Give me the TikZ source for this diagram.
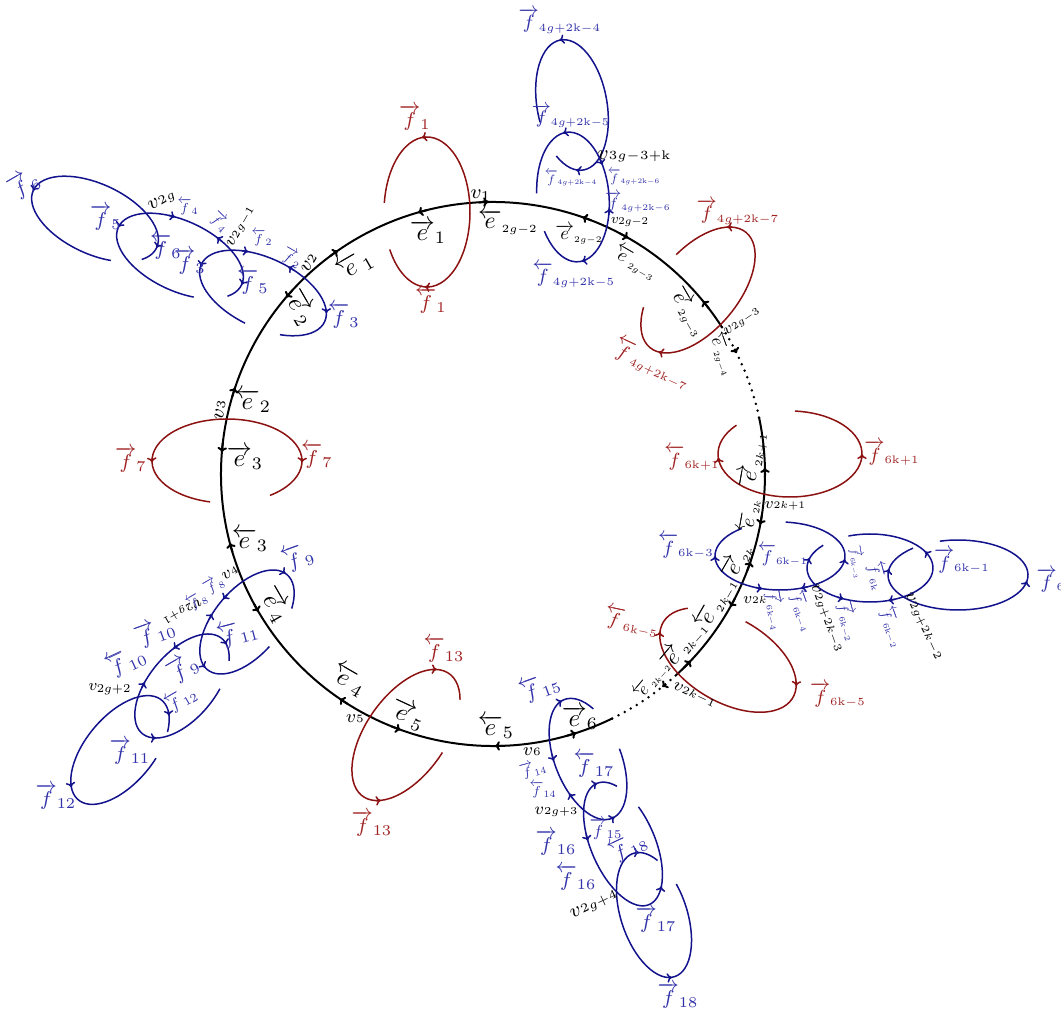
\documentclass[tikz,border=0pt]{standalone}
\usepackage{amsmath}
\usepackage{graphicx}
\usetikzlibrary{arrows.meta}
\definecolor{cred}{RGB}{140,18,18}
\definecolor{cblue}{RGB}{18,18,140}
\definecolor{lred}{RGB}{160,35,35}
\definecolor{lblue}{RGB}{50,50,170}
\newcommand{\eloop}[9]{%
 \begin{scope}[shift={(#2,-#3)},rotate=#6]
 \draw[#1] (#7:#4 and #5) arc[start angle=#7,end angle=#8,x radius=#4,y radius=#5];
 \foreach \tang/\tdir in {#9}{\draw[#1,tipe] ({\tang-(\tdir)*6}:#4 and #5) arc[start angle={\tang-(\tdir)*6},end angle=\tang,x radius=#4,y radius=#5];}
 \end{scope}}
\newcommand{\lab}[6][]{\node[#1] (#2) at (#3,-#4) {\scalebox{#5}{#6}};}
\newcommand{\sml}[1]{\scalebox{0.92}{$\scriptscriptstyle #1$}}
\newcommand{\fR}[1]{$\overrightarrow{f}_{#1}$}
\newcommand{\fL}[1]{$\overleftarrow{f}_{#1}$}
\newcommand{\fRl}[1]{$\overrightarrow{f}_{\sml{#1}}$}
\newcommand{\fLl}[1]{$\overleftarrow{f}_{\sml{#1}}$}
\newcommand{\eR}[1]{$\overrightarrow{e}_{#1}$}
\newcommand{\eL}[1]{$\overleftarrow{e}_{#1}$}
\newcommand{\eRs}[1]{$\overrightarrow{e}_{\sml{#1}}$}
\newcommand{\eLs}[1]{$\overleftarrow{e}_{\sml{#1}}$}
\newcommand{\vb}[1]{$v{\scriptscriptstyle #1}$}
\newcommand{\vs}[1]{$v_{#1}$}
\newcommand{\kk}{\mathrm{k}}
\begin{document}
\begin{tikzpicture}[x=0.4pt,y=0.4pt,
  circ/.style={line width=0.8pt,black},
  dotc/.style={line width=1.1pt,black,dash pattern=on 0pt off 2.8pt,line cap=round},
  rl/.style={line width=0.6pt,cred},
  bl/.style={line width=0.6pt,cblue},
  tipe/.style={-{To[length=2pt,width=3.8pt]}},
  lr/.style={text=lred,inner sep=0pt,font=\footnotesize},
  lb/.style={text=lblue,inner sep=0pt,font=\footnotesize},
  lk/.style={text=black,inner sep=0pt},
  vf/.style={text=black,inner sep=0pt,font=\footnotesize}]
\useasboundingbox (0,0) rectangle (1061,-1011);
% main circle
\begin{scope}[shift={(493,-474)}]
\draw[circ] (32.7:272) arc[start angle=32.7,end angle=296,radius=272];
\draw[circ] (-48:272) arc[start angle=-48,end angle=12,radius=272];
\draw[dotc] (12:272) arc[start angle=12,end angle=32.7,radius=272];
\draw[dotc] (296:272) arc[start angle=296,end angle=312,radius=272];
\foreach \ang/\dir in {91/-1,106/1,70.8/1,60.2/-1,39.5/1,1.3/1,-10.7/-1,-18.8/1,-29.2/-1,-43.4/1,-72.2/1,-89.6/-1,-109.9/1,-124.3/-1,-149.6/1,-165.3/-1,175.4/1,161.5/-1,139.5/1,124.8/-1}
  \draw[circ,tipe] ({\ang-(\dir)*2}:272) arc[start angle={\ang-(\dir)*2},end angle=\ang,radius=272];
\foreach \ang/\dir in {26.4/-1,-51.5/-1}
  \draw[circ,tipe] ({\ang-(\dir)*1}:272) arc[start angle={\ang-(\dir)*1},end angle=\ang,radius=272];
\end{scope}
% red loops
\eloop{rl}{427}{212}{43}{75}{0}{210}{533}{97/1,267/-1}
\eloop{rl}{698}{290}{75}{40}{50}{130}{440}{27/1,194/-1}
\eloop{rl}{227}{461}{75}{42}{0}{305}{617}{182/1,358/-1}
\eloop{rl}{406}{735}{75}{40}{55}{-37}{275}{18/-1,205/1}
\eloop{rl}{790}{454}{72}{43}{0}{138}{446}{185/-1,0/1}
\eloop{rl}{728}{660}{75}{42}{-30}{144}{453}{193/-1,16/-1}
% blue loops, top
\eloop{bl}{572}{105}{35}{66}{10}{226}{550}{92/1,258/-1}
\eloop{bl}{573}{197}{36}{65}{5}{209}{534}{97/1,275/-1,27/-1,347/1}
% upper left chain
\eloop{bl}{95}{219}{68}{35}{-25}{331}{658}{181/1,0/-1}
\eloop{bl}{180}{256}{68}{35}{-25}{332}{656}{180/1,108/-1,68/1,0/-1}
\eloop{bl}{263}{293}{68}{35}{-25}{299}{627}{183/1,117/-1,80/1,14/-1}
% lower left chain
\eloop{bl}{247}{622}{62}{33}{50}{-51}{266}{3/-1,88/1,105/-1,175/1}
\eloop{bl}{182}{686}{62}{33}{50}{-37}{291}{-13/-1,68/1,110/-1,204/1}
\eloop{bl}{120}{750}{65}{34}{50}{-47}{285}{-27/-1,157/1}
% bottom chain
\eloop{bl}{588}{759}{64}{33}{112}{-46}{268}{4/-1,80/1,113/-1,185/1}
\eloop{bl}{623}{844}{66}{32}{113.5}{-33}{295}{359/-1,75/1,215/1}
\eloop{bl}{654}{915}{65}{33}{108.6}{-39}{290}{350/-1,175/1}
% right chain
\eloop{bl}{780}{556}{65}{34}{0}{126}{445}{180/-1,355/1,254/1,289/-1}
\eloop{bl}{870}{568}{63}{34}{0}{138}{470}{163/-1,245/1,287/-1,29/1}
\eloop{bl}{958}{575}{70}{35}{0}{130}{465}{170/-1,350/1}
% red labels
\lab[lr]{r1}{415}{118}{1}{\fR{1}}
\lab[lr]{r2}{431}{301}{1}{\fL{1}}
\lab[lr]{r3}{738}{212}{0.95}{\fRl{4g+2\kk-7}}
\lab[lr,rotate=-25]{r4}{652}{364}{0.95}{\fLl{4g+2\kk-7}}
\lab[lr]{r5}{131}{460}{1}{\fR{7}}
\lab[lr]{r6}{317}{456}{1}{\fL{7}}
\lab[lr]{r7}{444}{650}{1}{\fL{13}}
\lab[lr]{r8}{372}{824}{1}{\fR{13}}
\lab[lr]{r9}{692}{458}{0.95}{\fLl{6\kk+1}}
\lab[lr]{r10}{892}{453}{0.95}{\fRl{6\kk+1}}
\lab[lr,rotate=-12]{r11}{632}{622}{0.95}{\fLl{6\kk-5}}
\lab[lr]{r12}{838}{695}{0.95}{\fRl{6\kk-5}}
% black labels
\lab[vf]{k1}{481}{196}{1}{\vs{1}}
\lab[lk]{k2}{428}{232}{1}{\eR{1}}
\lab[lk]{k3}{508}{222}{0.95}{\eLs{2g-2}}
\lab[lk]{k4}{579}{234}{0.75}{\eRs{2g-2}}
\lab[vf]{k5}{630}{222}{0.7}{\vs{2g-2}}
\lab[vf]{k6}{634}{156}{1}{\vb{3g-3+\kk}}
\lab[lk,rotate=-30]{k7}{635}{263}{0.75}{\eLs{2g-3}}
\lab[lk,rotate=-60]{k8}{688}{312}{0.85}{\eRs{2g-3}}
\lab[vf,rotate=35]{k9}{742}{322}{0.8}{\vb{2g-3}}
\lab[lk,rotate=-70]{k10}{722}{354}{0.7}{\eLs{2g-4}}
\lab[lk,rotate=80]{k11}{753}{460}{0.9}{\eRs{2k+1}}
\lab[vf]{k12}{785}{506}{0.8}{\vb{2k+1}}
\lab[lk,rotate=80]{k13}{749}{516}{0.8}{\eLs{2k}}
\lab[lk,rotate=60]{k14}{737}{561}{0.9}{\eRs{2k}}
\lab[vf]{k15}{755}{600}{0.8}{\vb{2k}}
\lab[lk,rotate=60]{k16}{716}{603}{0.9}{\eLs{2k-1}}
\lab[lk,rotate=50]{k17}{684}{645}{0.9}{\eRs{2k-1}}
\lab[lk,rotate=50]{k18}{652}{680}{0.7}{\eLs{2k-2}}
\lab[vf,rotate=-25]{k19}{694}{695}{0.88}{\vb{2k-1}}
\lab[lk]{k20}{580}{718}{1}{\eR{6}}
\lab[lk]{k21}{496}{727}{1}{\eL{5}}
\lab[vf]{k22}{532}{752}{0.9}{\vb{6}}
\lab[lk,rotate=-25]{k23}{408}{715}{1}{\eR{5}}
\lab[vf]{k24}{355}{719}{0.9}{\vb{5}}
\lab[lk,rotate=-30]{k25}{349}{680}{1}{\eL{4}}
\lab[lk,rotate=-60]{k26}{275}{605}{1}{\eR{4}}
\lab[vf,rotate=30]{k27}{230}{573}{0.85}{\vb{4}}
\lab[vf,rotate=210]{k28}{182}{611}{0.85}{\vb{2g+1}}
\lab[vf]{k29}{110}{689}{0.8}{\vs{2g+2}}
\lab[lk]{k30}{250}{540}{1}{\eL{3}}
\lab[lk]{k31}{245}{458}{1}{\eR{3}}
\lab[vf,rotate=80]{k32}{220}{410}{1}{\vb{3}}
\lab[lk]{k33}{253}{401}{1}{\eL{2}}
\lab[lk,rotate=-60]{k34}{300}{308}{1}{\eR{2}}
\lab[vf,rotate=60]{k35}{309}{263}{1}{\vb{2}}
\lab[lk,rotate=30]{k36}{355}{265}{1}{\eL{1}}
\lab[vf,rotate=60]{k37}{241}{227}{0.87}{\vb{2g-1}}
\lab[vf,rotate=30]{k38}{162}{201}{1}{\vb{2g}}
\lab[vf]{k39}{556}{812}{0.85}{\vb{2g+3}}
\lab[vf,rotate=25]{k40}{594}{905}{1}{\vb{2g+4}}
\lab[vf,rotate=-70]{k41}{826}{618}{0.88}{\vb{2g+2k-3}}
\lab[vf,rotate=-65]{k42}{923}{626}{0.88}{\vb{2g+2k-2}}
% blue labels
\lab[lb]{b1}{560}{21}{0.95}{\fRl{4g+2\kk-4}}
\lab[lb]{b2}{571}{116}{0.9}{\fRl{4g+2\kk-5}}
\lab[lb]{b3}{571}{178}{0.6}{\fLl{4g+2\kk-4}}
\lab[lb]{b4}{634}{177}{0.6}{\fLl{4g+2\kk-6}}
\lab[lb]{b5}{638}{202}{0.75}{\fRl{4g+2\kk-6}}
\lab[lb]{b6}{574}{275}{0.95}{\fLl{4g+2\kk-5}}
\lab[lb,rotate=30]{b7}{24}{184}{1}{\fR{6}}
\lab[lb]{b8}{106}{218}{1}{\fR{5}}
\lab[lb]{b9}{188}{207}{0.65}{\fL{4}}
\lab[lb]{b10}{166}{247}{1}{\fL{6}}
\lab[lb]{b11}{190}{262}{1}{\fR{3}}
\lab[lb,rotate=-45]{b12}{220}{222}{0.65}{\fR{4}}
\lab[lb]{b13}{262}{238}{0.65}{\fL{2}}
\lab[lb]{b14}{253}{282}{1}{\fL{5}}
\lab[lb,rotate=-30]{b15}{292}{258}{0.65}{\fR{2}}
\lab[lb]{b16}{344}{316}{1}{\fL{3}}
\lab[lb,rotate=20]{b17}{298}{557}{1}{\fL{9}}
\lab[lb,rotate=30]{b18}{214}{585}{0.65}{\fR{8}}
\lab[lb,rotate=30]{b19}{197}{601}{0.65}{\fL{8}}
\lab[lb,rotate=15]{b20}{238}{633}{1}{\fL{11}}
\lab[lb,rotate=20]{b21}{155}{632}{1}{\fR{10}}
\lab[lb,rotate=25]{b22}{126}{661}{1}{\fL{10}}
\lab[lb,rotate=30]{b23}{183}{668}{1}{\fR{9}}
\lab[lb,rotate=30]{b24}{181}{699}{0.8}{\fL{12}}
\lab[lb]{b25}{130}{752}{1}{\fR{11}}
\lab[lb]{b26}{56}{797}{1}{\fR{12}}
\lab[lb,rotate=20]{b27}{540}{687}{1}{\fL{15}}
\lab[lb,rotate=15]{b28}{533}{769}{0.65}{\fR{14}}
\lab[lb]{b29}{543}{790}{0.65}{\fL{14}}
\lab[lb]{b30}{594}{765}{1}{\fL{17}}
\lab[lb]{b31}{606}{829}{0.8}{\fR{15}}
\lab[lb,rotate=25]{b32}{628}{847}{0.95}{\fL{18}}
\lab[lb]{b33}{556}{843}{1}{\fR{16}}
\lab[lb]{b34}{576}{878}{1}{\fL{16}}
\lab[lb]{b35}{656}{920}{1}{\fR{17}}
\lab[lb]{b36}{678}{996}{1}{\fR{18}}
\lab[lb]{b37}{686}{546}{0.95}{\fLl{6\kk-3}}
\lab[lb]{b38}{783}{555}{0.85}{\fLl{6\kk-1}}
\lab[lb,rotate=-80]{b39}{857}{562}{0.55}{\fRl{6\kk-3}}
\lab[lb,rotate=-75]{b40}{877}{576}{0.75}{\fLl{6\kk}}
\lab[lb]{b41}{962}{561}{0.95}{\fRl{6\kk-1}}
\lab[lb,anchor=west]{b42}{1036}{580}{0.95}{\fRl{6\kk}}
\lab[lb,rotate=-80]{b43}{775}{610}{0.7}{\fRl{6\kk-4}}
\lab[lb,rotate=-70]{b44}{802}{611}{0.7}{\fLl{6\kk-4}}
\lab[lb,rotate=-75]{b45}{848}{621}{0.7}{\fRl{6\kk-2}}
\lab[lb,rotate=-70]{b46}{892}{627}{0.7}{\fLl{6\kk-2}}
\end{tikzpicture}
\end{document}
